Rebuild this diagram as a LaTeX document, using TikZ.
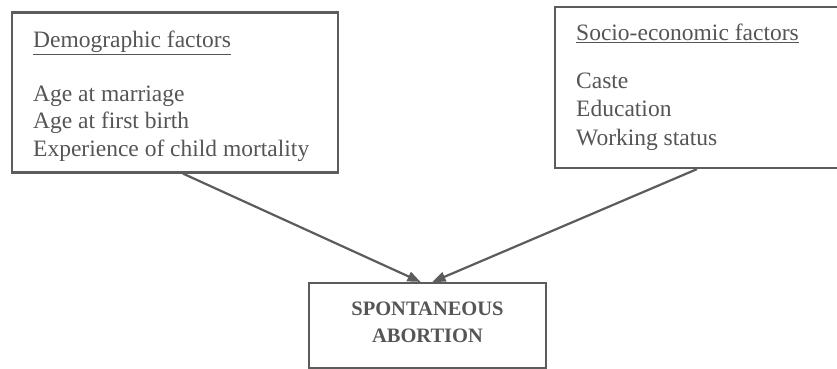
\documentclass[tikz,border=0pt]{standalone}
\usepackage{fontspec}
\setmainfont{Liberation Serif}
\usetikzlibrary{arrows.meta,calc}
\definecolor{ink}{RGB}{92,92,92}
\definecolor{txt}{RGB}{85,85,85}
\tikzset{
  factorbox/.style={draw=ink, line width=2.2pt, inner sep=0pt},
  factortext/.style={text=txt, anchor=base west, inner sep=0pt, font=\fontsize{23.5}{28}\selectfont},
  outcome/.style={text=txt, anchor=base, inner sep=0pt, font=\fontsize{20.5}{27}\selectfont\bfseries},
  link/.style={draw=ink, line width=2.2pt, -{Triangle[length=13pt,width=10pt]}}
}
\begin{document}
\begin{tikzpicture}[x=1pt,y=-1pt]
\useasboundingbox (0,0) rectangle (837,369);
\clip (0,0) rectangle (837,369);
% boxes
\node[factorbox, minimum width=326pt, minimum height=160pt] (lbox) at (175,92.5) {};
\node[factorbox, minimum width=290pt, minimum height=161pt] (rbox) at (700,87.5) {};
\node[factorbox, minimum width=237pt, minimum height=85pt] (bbox) at (427.5,325.5) {};
% left text
\node[factortext] (ltitle) at (33,48) {\underline{Demographic factors}};
\node[factortext] (l1) at (33,101) {Age at marriage};
\node[factortext] (l2) at (33,128.5) {Age at first birth};
\node[factortext] (l3) at (33,156) {Experience of child mortality};
% right text
\node[factortext] (rtitle) at (576,41) {\underline{Socio-economic factors}};
\node[factortext] (r1) at (576,88) {Caste};
\node[factortext] (r2) at (576,116.5) {Education};
\node[factortext] (r3) at (576,145) {Working status};
% outcome text
\node[outcome] (o1) at (427.5,315) {SPONTANEOUS};
\node[outcome] (o2) at (427.5,342) {ABORTION};
% connectors
\draw[link] ([xshift=8pt]lbox.south) -- ([xshift=-7pt]bbox.north);
\draw[link] ([xshift=-3pt]rbox.south) -- ([xshift=5pt]bbox.north);
\end{tikzpicture}
\end{document}
